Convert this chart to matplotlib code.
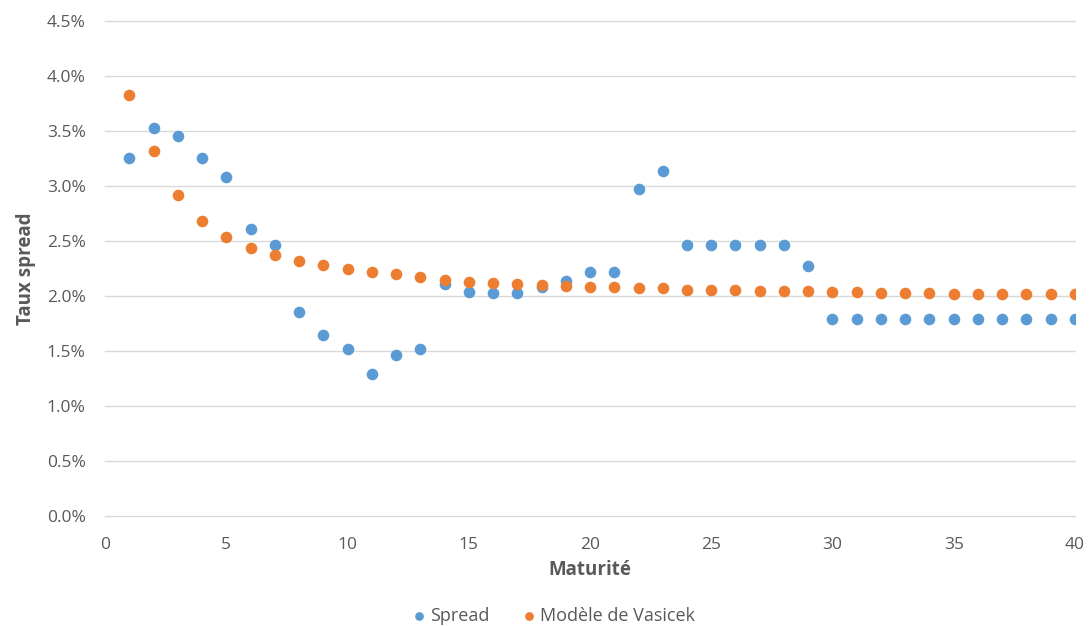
import matplotlib.pyplot as plt
from matplotlib.ticker import PercentFormatter, MultipleLocator

maturite = list(range(1, 41))

spread = [3.25, 3.53, 3.45, 3.25, 3.08, 2.61, 2.46, 1.855, 1.645, 1.52,
          1.29, 1.46, 1.52, 2.11, 2.04, 2.03, 2.03, 2.08, 2.14, 2.22,
          2.22, 2.97, 3.14, 2.46, 2.46, 2.46, 2.46, 2.46, 2.27, 1.79,
          1.79, 1.79, 1.79, 1.79, 1.79, 1.79, 1.79, 1.79, 1.79, 1.79]

vasicek = [3.83, 3.32, 2.92, 2.68, 2.54, 2.44, 2.37, 2.32, 2.28, 2.245,
           2.22, 2.20, 2.17, 2.145, 2.13, 2.12, 2.11, 2.10, 2.09, 2.08,
           2.08, 2.07, 2.07, 2.055, 2.055, 2.055, 2.045, 2.045, 2.045, 2.04,
           2.035, 2.03, 2.03, 2.03, 2.02, 2.02, 2.02, 2.02, 2.02, 2.02]

plt.rcParams['font.family'] = ['Open Sans', 'DejaVu Sans']
gris = '#595959'

fig = plt.figure(figsize=(10.92, 6.26), dpi=100)
ax = fig.add_axes([0.0962, 0.1757, 0.8882, 0.7908])

ax.scatter(maturite, spread, s=70, color='#5B9BD5', label='Spread', zorder=3, linewidths=0)
ax.scatter(maturite, vasicek, s=70, color='#ED7D31', label='Modèle de Vasicek', zorder=4, linewidths=0)

ax.set_xlim(0, 40)
ax.set_ylim(0, 4.5)
ax.xaxis.set_major_locator(MultipleLocator(5))
ax.yaxis.set_major_locator(MultipleLocator(0.5))
ax.yaxis.set_major_formatter(PercentFormatter(decimals=1))

ax.grid(axis='y', color='#D9D9D9', linewidth=1, clip_on=False)
ax.set_axisbelow(True)
for s in ax.spines.values():
    s.set_visible(False)
ax.tick_params(length=0, labelsize=12.5, colors=gris)
ax.tick_params(axis='x', pad=15)
ax.tick_params(axis='y', pad=14)

ax.set_xlabel('Maturité', fontsize=13.5, fontweight='bold', color=gris, labelpad=5)
ax.set_ylabel('Taux spread', fontsize=13.5, fontweight='bold', color=gris, labelpad=8)

fig.legend(loc='center', ncol=2, frameon=False, fontsize=13,
           bbox_to_anchor=(0.505, 0.016), handletextpad=0.0, columnspacing=1.6,
           handlelength=1.2, labelcolor=gris, markerscale=0.75)

fig.savefig('out.png', dpi=100)
